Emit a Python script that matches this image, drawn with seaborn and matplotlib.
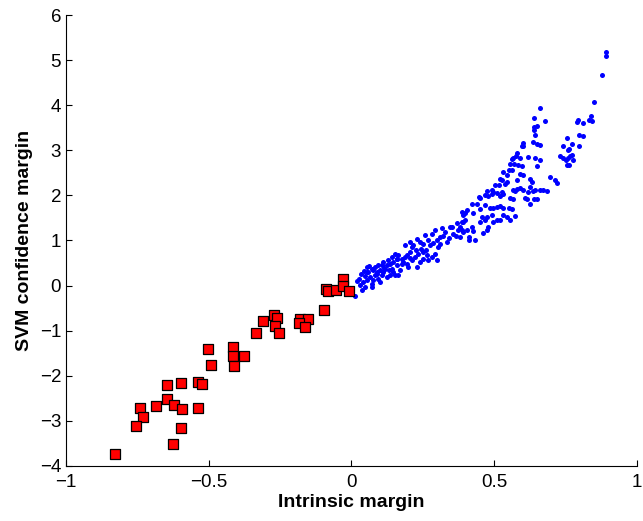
import numpy as np
import pandas as pd
import matplotlib
matplotlib.use("Agg")
import matplotlib.pyplot as plt
import seaborn as sns

# negative intrinsic margin (red squares)
neg_x = [-0.334, -0.503, -0.415, -0.415, -0.377, -0.492, -0.412, -0.646, -0.597, -0.538,
         -0.524, -0.646, -0.622, -0.685, -0.741, -0.594, -0.538, -0.731, -0.755, -0.597,
         -0.625, -0.828,
         -0.089, -0.083, -0.053, -0.031, -0.031, -0.008, -0.096, -0.309, -0.272, -0.262,
         -0.268, -0.253, -0.180, -0.153, -0.185, -0.164]
neg_y = [-1.06, -1.41, -1.37, -1.57, -1.57, -1.76, -1.79, -2.21, -2.16, -2.14,
         -2.19, -2.52, -2.65, -2.67, -2.72, -2.74, -2.72, -2.92, -3.12, -3.16,
         -3.52, -3.74,
         -0.07, -0.12, -0.09, 0.14, -0.01, -0.12, -0.55, -0.79, -0.66, -0.71,
         -0.90, -1.06, -0.73, -0.75, -0.84, -0.92]

# positive intrinsic margin (blue dots)
pos_x = [0.012, 0.036, 0.030, 0.041, 0.027, 0.032, 0.044, 0.053, 0.062, 0.071,
         0.059, 0.065, 0.053, 0.071, 0.076, 0.082, 0.088, 0.082, 0.094, 0.100,
         0.100, 0.106, 0.111, 0.117, 0.123, 0.111, 0.129, 0.135, 0.141, 0.147,
         0.135, 0.123, 0.152, 0.164, 0.170, 0.158, 0.147, 0.141, 0.152, 0.164,
         0.176, 0.187, 0.193, 0.199, 0.211, 0.222, 0.228, 0.240, 0.252, 0.263,
         0.269, 0.281, 0.292, 0.298, 0.187, 0.205, 0.211, 0.228, 0.240, 0.252,
         0.257, 0.269, 0.275, 0.281, 0.292, 0.298, 0.310, 0.304, 0.316, 0.327,
         0.333, 0.345, 0.357, 0.368, 0.374, 0.380, 0.193, 0.205, 0.252, 0.234,
         0.217, 0.176, 0.158, 0.094, 0.071, 0.047, 0.076, 0.106,
         0.020, 0.048, 0.090, 0.115, 0.130, 0.160, 0.180, 0.205, 0.225, 0.245,
         0.262, 0.285, 0.310, 0.322, 0.340, 0.352, 0.365, 0.380, 0.392, 0.055,
         0.640, 0.649, 0.678, 0.639, 0.642, 0.637, 0.651, 0.660, 0.602, 0.596,
         0.602, 0.579, 0.576, 0.567, 0.561, 0.590, 0.619, 0.643, 0.660, 0.555,
         0.569, 0.584, 0.596, 0.550, 0.561, 0.649, 0.532, 0.544, 0.590, 0.602,
         0.520, 0.526, 0.544, 0.538, 0.579, 0.503, 0.515, 0.625, 0.631, 0.625,
         0.619, 0.637, 0.643, 0.660, 0.672, 0.684, 0.695, 0.713, 0.719, 0.491,
         0.474, 0.497, 0.511, 0.526, 0.532, 0.567, 0.573, 0.579, 0.590, 0.600,
         0.468, 0.479, 0.491, 0.520, 0.555, 0.567, 0.608, 0.614, 0.639, 0.651,
         0.625, 0.450, 0.468, 0.450, 0.485, 0.497, 0.509, 0.520, 0.532, 0.550,
         0.561, 0.573, 0.456, 0.474, 0.491, 0.532, 0.544, 0.555, 0.520, 0.509,
         0.497, 0.468, 0.450, 0.479, 0.473, 0.462, 0.439, 0.421, 0.404, 0.398,
         0.392, 0.386, 0.427, 0.386, 0.398, 0.421, 0.404, 0.386, 0.392, 0.427,
         0.413, 0.410, 0.433, 0.447, 0.660, 0.640,
         0.892, 0.892, 0.876, 0.851, 0.838, 0.832, 0.844, 0.795, 0.791, 0.812,
         0.797, 0.811, 0.798, 0.756, 0.740, 0.771, 0.761, 0.760, 0.774, 0.766,
         0.757, 0.775, 0.752, 0.742, 0.754, 0.761, 0.730]
pos_y = [-0.235, -0.087, 0.009, 0.083, 0.157, 0.253, 0.327, 0.415, 0.445, 0.378,
         0.305, 0.194, 0.120, 0.046, 0.120, 0.231, 0.305, 0.415, 0.452, 0.341,
         0.083, 0.231, 0.305, 0.378, 0.452, 0.527, 0.563, 0.489, 0.378, 0.305,
         0.231, 0.194, 0.231, 0.231, 0.341, 0.452, 0.527, 0.637, 0.711, 0.674,
         0.600, 0.637, 0.489, 0.415, 0.563, 0.637, 0.415, 0.526, 0.600, 0.674,
         0.563, 0.637, 0.711, 0.563, 0.896, 0.970, 0.859, 1.044, 0.970, 0.933,
         1.118, 1.007, 0.896, 1.155, 1.229, 1.007, 1.081, 0.859, 1.266, 1.192,
         0.970, 1.303, 1.155, 1.377, 1.229, 1.081, 0.674, 0.748, 0.748, 0.711,
         0.896, 0.489, 0.600, 0.157, -0.028, -0.028, 0.341, 0.452,
         0.10, 0.22, 0.26, 0.40, 0.35, 0.58, 0.52, 0.62, 0.78, 0.82,
         0.78, 0.95, 0.92, 1.10, 1.05, 1.30, 1.10, 1.30, 1.42, 0.30,
         3.52, 3.53, 3.64, 3.45, 3.34, 3.18, 3.15, 3.12, 3.17, 3.10,
         3.09, 2.95, 2.88, 2.82, 2.80, 2.82, 2.85, 2.84, 2.78, 2.69,
         2.69, 2.68, 2.65, 2.56, 2.57, 2.65, 2.51, 2.45, 2.47, 2.46,
         2.37, 2.34, 2.30, 2.26, 2.34, 2.23, 2.23, 2.37, 2.30, 2.19,
         2.08, 2.10, 2.12, 2.13, 2.12, 2.10, 2.40, 2.34, 2.28, 2.12,
         2.09, 2.08, 2.06, 2.08, 2.03, 2.12, 2.10, 2.15, 2.16, 2.12,
         2.00, 1.98, 2.04, 1.98, 1.95, 1.91, 1.95, 1.91, 1.92, 1.92,
         1.80, 1.95, 1.78, 1.69, 1.73, 1.71, 1.75, 1.76, 1.72, 1.71,
         1.69, 1.55, 1.52, 1.52, 1.56, 1.57, 1.51, 1.45, 1.45, 1.45,
         1.41, 1.45, 1.41, 1.29, 1.23, 1.16, 1.82, 1.82, 1.67, 1.60,
         1.56, 1.63, 1.60, 1.41, 1.45, 1.29, 1.23, 1.23, 1.19, 1.21,
         1.08, 1.01, 1.01, 1.97, 3.93, 3.72,
         5.18, 5.08, 4.66, 4.06, 3.76, 3.67, 3.65, 3.67, 3.63, 3.61,
         3.35, 3.31, 3.09, 3.27, 3.10, 3.13, 3.02, 3.00, 2.90, 2.87,
         2.83, 2.78, 2.79, 2.83, 2.68, 2.68, 2.87]

x_ticks = [-1, -0.5, 0, 0.5, 1]
x_tick_labels = ["\u22121", "\u22120.5", "0", "0.5", "1"]
y_ticks = [-4, -3, -2, -1, 0, 1, 2, 3, 4, 5, 6]
y_tick_labels = ["\u22124", "\u22123", "\u22122", "\u22121", "0", "1", "2", "3", "4", "5", "6"]

neg = pd.DataFrame({"x": neg_x, "y": neg_y})
pos = pd.DataFrame({"x": pos_x, "y": pos_y})

sns.set_style("ticks")
plt.rcParams['font.family'] = ['Liberation Sans', 'DejaVu Sans']

fig = plt.figure(figsize=(6.43, 5.21), dpi=100)
ax = fig.add_axes([0.1026, 0.1056, 0.8881, 0.8656])

sns.scatterplot(data=pos, x="x", y="y", marker="o", color="#0000ff",
                s=13, linewidth=0, ax=ax)
sns.scatterplot(data=neg, x="x", y="y", marker="s", color="#ff0000",
                s=62, edgecolor="black", linewidth=0.9, ax=ax)

ax.set_xlim(-1, 1)
ax.set_ylim(-4, 6)
ax.set_xticks(x_ticks)
ax.set_xticklabels(x_tick_labels)
ax.set_yticks(y_ticks)
ax.set_yticklabels(y_tick_labels)
ax.tick_params(direction="in", length=4, width=0.8, labelsize=13.5,
               colors="black", labelcolor="black")
ax.tick_params(axis="x", pad=6)
ax.set_xlabel("Intrinsic margin", fontsize=14, fontweight="bold", labelpad=2, color="black")
ax.set_ylabel("SVM confidence margin", fontsize=14, fontweight="bold", labelpad=5, color="black")
sns.despine(ax=ax)
for sp in ["left", "bottom"]:
    ax.spines[sp].set_linewidth(0.8)
    ax.spines[sp].set_color("black")

fig.savefig("out.png", dpi=100)
